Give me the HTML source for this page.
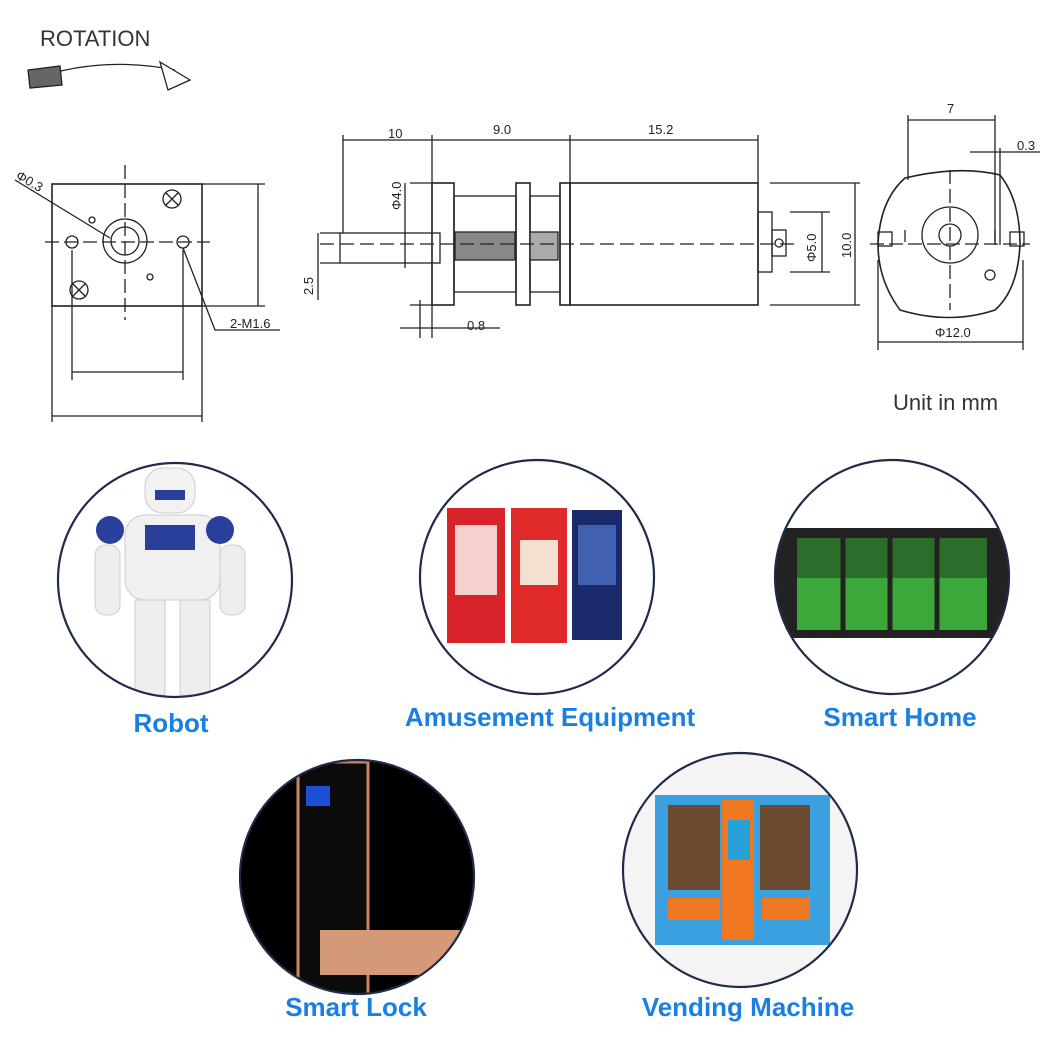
<!DOCTYPE html>
<html><head><meta charset="utf-8"><style>
body{margin:0;background:#fff;width:1050px;height:1050px;overflow:hidden;position:relative;font-family:"Liberation Sans",sans-serif}
.lbl{position:absolute;color:#1a7fe3;font-weight:bold;font-size:26px;white-space:nowrap;transform:translateX(-50%)}
</style></head><body>
<svg width="1050" height="1050" style="position:absolute;left:0;top:0" font-family="Liberation Sans, sans-serif">
<g stroke="#222" fill="none" stroke-width="1.3">
<!-- rotation -->
<path d="M30 80 Q100 55 175 70"/>
<polygon points="28,70 60,66 62,85 30,88" fill="#666" stroke="#222"/>
<polygon points="160,62 190,80 168,90" fill="#fff"/>
<!-- left view -->
<rect x="52" y="184" width="150" height="122" stroke-width="1.6"/>
<circle cx="125" cy="241" r="22"/><circle cx="125" cy="241" r="14"/>
<circle cx="72" cy="242" r="6"/><circle cx="183" cy="242" r="6"/>
<circle cx="172" cy="199" r="9"/><path d="M166 193l12 12M178 193l-12 12"/>
<circle cx="79" cy="290" r="9"/><path d="M73 284l12 12M85 284l-12 12"/>
<circle cx="92" cy="220" r="3"/><circle cx="150" cy="277" r="3"/>
<path d="M45 242H210M125 165V320" stroke-dasharray="14 5"/>
<path d="M15 180L110 238M183 248L215 330H280"/>
<path d="M202 184H265M202 306H265M258 184V306"/>
<path d="M72 250V380M183 250V380M72 372H183"/>
<path d="M52 306V422M202 306V422M52 416H202"/>
<!-- side view -->
<rect x="340" y="233" width="100" height="30"/>
<rect x="432" y="183" width="22" height="122" stroke-width="1.6"/>
<rect x="454" y="196" width="62" height="96"/>
<rect x="516" y="183" width="14" height="122" stroke-width="1.6"/>
<rect x="530" y="196" width="30" height="96"/>
<rect x="560" y="183" width="10" height="122" stroke-width="1.6"/>
<rect x="570" y="183" width="188" height="122" stroke-width="1.6"/>
<rect x="758" y="212" width="14" height="60"/>
<rect x="772" y="230" width="14" height="26"/><circle cx="779" cy="243" r="4"/>
<rect x="455" y="232" width="60" height="28" fill="#888"/>
<rect x="530" y="232" width="28" height="28" fill="#aaa"/>
<path d="M320 244H800" stroke-dasharray="14 6"/>
<path d="M343 135V233M432 135V183M570 135V183M758 135V183M343 140H758"/>
<path d="M405 183V268M410 183H432M410 305H432"/>
<path d="M318 233V300M320 233H340M320 263H340"/>
<path d="M420 300V338M432 305V338M400 328H500"/>
<path d="M790 212H830M790 272H830M822 212V272M770 183H860M770 305H860M855 183V305"/>
<!-- right view -->
<path d="M905 178Q960 165 1000 175Q1020 200 1020 244Q1018 290 995 310Q950 325 900 310Q878 280 878 244Q880 200 905 178Z" stroke-width="1.6"/>
<circle cx="950" cy="235" r="28"/><circle cx="950" cy="235" r="11"/>
<rect x="878" y="232" width="14" height="14"/><rect x="1010" y="232" width="14" height="14"/>
<path d="M905 230v12M995 230v12"/>
<circle cx="990" cy="275" r="5"/>
<path d="M870 244H1030M950 170V310" stroke-dasharray="14 5"/>
<path d="M908 115V180M995 115V245M908 120H995M970 152H1040M1000 148V245"/>
<path d="M878 260V350M1023 260V350M878 342H1023"/>
</g>
<g fill="#222" font-size="13">
<text x="40" y="46" font-size="22" fill="#333">ROTATION</text>
<text x="15" y="178" transform="rotate(30 15 178)">Φ0.3</text>
<text x="230" y="328">2-M1.6</text>
<text x="388" y="138">10</text><text x="493" y="134">9.0</text><text x="648" y="134">15.2</text>
<text x="401" y="210" transform="rotate(-90 401 210)">Φ4.0</text>
<text x="313" y="295" transform="rotate(-90 313 295)">2.5</text>
<text x="467" y="330">0.8</text>
<text x="816" y="262" transform="rotate(-90 816 262)">Φ5.0</text>
<text x="851" y="258" transform="rotate(-90 851 258)">10.0</text>
<text x="947" y="113">7</text><text x="1017" y="150">0.3</text>
<text x="935" y="337">Φ12.0</text>
<text x="893" y="410" font-size="22" fill="#333">Unit in mm</text>
</g>
<!-- circles -->
<defs>
<clipPath id="c1"><circle cx="175" cy="580" r="117"/></clipPath>
<clipPath id="c2"><circle cx="537" cy="577" r="117"/></clipPath>
<clipPath id="c3"><circle cx="892" cy="577" r="117"/></clipPath>
<clipPath id="c4"><circle cx="357" cy="877" r="117"/></clipPath>
<clipPath id="c5"><circle cx="740" cy="870" r="117"/></clipPath>
</defs>
<g clip-path="url(#c1)">
<rect x="145" y="468" width="50" height="45" rx="18" fill="#f2f2f2" stroke="#ccc"/>
<rect x="155" y="490" width="30" height="10" fill="#2a3f9a"/>
<rect x="125" y="515" width="95" height="85" rx="20" fill="#f0f0f0" stroke="#ccc"/>
<rect x="145" y="525" width="50" height="25" fill="#2a3f9a"/>
<circle cx="110" cy="530" r="14" fill="#2a3f9a"/><circle cx="220" cy="530" r="14" fill="#2a3f9a"/>
<rect x="95" y="545" width="25" height="70" rx="10" fill="#eee" stroke="#ccc"/>
<rect x="220" y="545" width="25" height="70" rx="10" fill="#eee" stroke="#ccc"/>
<rect x="135" y="600" width="30" height="95" fill="#eee" stroke="#ccc"/>
<rect x="180" y="600" width="30" height="95" fill="#eee" stroke="#ccc"/>
</g>
<g clip-path="url(#c2)">
<rect x="447" y="508" width="58" height="135" fill="#d8232a"/>
<rect x="455" y="525" width="42" height="70" fill="#f4d0d0"/>
<rect x="511" y="508" width="56" height="135" fill="#e02a2a"/>
<rect x="520" y="540" width="38" height="45" fill="#f3e0d0"/>
<rect x="572" y="510" width="50" height="130" fill="#1a2a6a"/>
<rect x="578" y="525" width="38" height="60" fill="#4060b0"/>
</g>
<g clip-path="url(#c3)">
<rect x="770" y="528" width="240" height="110" fill="#222"/>
<rect x="797" y="538" width="190" height="92" fill="#3da83a"/>
<rect x="797" y="538" width="190" height="40" fill="#2a6e2a"/>
<path d="M843 532V636M890 532V636M937 532V636" stroke="#222" stroke-width="5"/>
</g>
<g clip-path="url(#c4)">
<rect x="230" y="750" width="260" height="260" fill="#000"/>
<rect x="298" y="762" width="70" height="245" fill="#0b0b0b" stroke="#c9875f" stroke-width="3"/>
<rect x="306" y="786" width="24" height="20" fill="#1d4ed8"/>
<rect x="320" y="930" width="180" height="45" fill="#d49a78"/>
</g>
<g clip-path="url(#c5)">
<rect x="620" y="750" width="240" height="240" fill="#f4f4f4"/>
<rect x="655" y="795" width="175" height="150" fill="#3aa0e0"/>
<rect x="668" y="805" width="52" height="85" fill="#6b4a30"/>
<rect x="760" y="805" width="50" height="85" fill="#6b4a30"/>
<rect x="722" y="800" width="32" height="140" fill="#f07820"/>
<rect x="728" y="820" width="22" height="40" fill="#28a0d8"/>
<rect x="668" y="898" width="52" height="22" fill="#f07820"/>
<rect x="762" y="898" width="48" height="22" fill="#f07820"/>
</g>
<g fill="none" stroke="#1e2b4a" stroke-width="2.2">
<circle cx="175" cy="580" r="117"/><circle cx="537" cy="577" r="117"/><circle cx="892" cy="577" r="117"/>
<circle cx="357" cy="877" r="117"/><circle cx="740" cy="870" r="117"/>
</g>
</svg>
<div class="lbl" style="left:171px;top:708px">Robot</div>
<div class="lbl" style="left:550px;top:702px">Amusement Equipment</div>
<div class="lbl" style="left:900px;top:702px">Smart Home</div>
<div class="lbl" style="left:356px;top:992px">Smart Lock</div>
<div class="lbl" style="left:748px;top:992px">Vending Machine</div>
</body></html>
